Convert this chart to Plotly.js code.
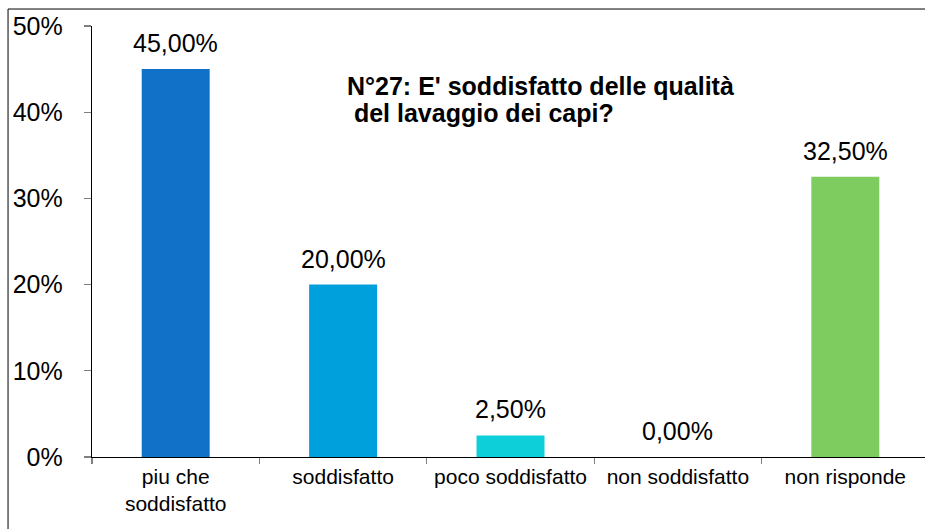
<!DOCTYPE html>
<html>
<head>
<meta charset="utf-8">
<script src="https://cdn.plot.ly/plotly-3.0.1.min.js"></script>
<style>
html,body{margin:0;padding:0;background:#fff;}
#chart{width:925px;height:529px;}
</style>
</head>
<body>
<div id="chart"></div>
<script>
const categories = ["piu che<br>soddisfatto", "soddisfatto", "poco soddisfatto", "non soddisfatto", "non risponde"];
const values = [0.45, 0.20, 0.025, 0.0, 0.325];
const valueLabels = ["45,00%", "20,00%", "2,50%", "0,00%", "32,50%"];
const barColors = ["#1170C8", "#00A0DC", "#0DCFD9", "#1170C8", "#7ECC5F"];
const yTickVals = [0, 0.1, 0.2, 0.3, 0.4, 0.5];
const yTickText = ["0%", "10%", "20%", "30%", "40%", "50%"];
const titleLines = ["N°27: E' soddisfatto delle qualità", "\u00A0del lavaggio dei capi?"];

const FONT = "Liberation Sans, Arial, sans-serif";

const trace = {
  type: "bar",
  x: categories,
  y: values,
  marker: { color: barColors, line: { width: 0 } },
  hoverinfo: "none"
};

const annotations = categories.map((c, i) => ({
  x: c, y: values[i], xref: "x", yref: "y",
  text: valueLabels[i], showarrow: false,
  xanchor: "center", yanchor: "bottom", yshift: 10,
  font: { family: FONT, size: 25, color: "#000" }
}));
const titleY = [0.860, 0.797];
titleLines.forEach((t, i) => annotations.push({
  x: 0.3035, y: titleY[i], xref: "paper", yref: "paper",
  text: t, showarrow: false, align: "left",
  xanchor: "left", yanchor: "middle",
  font: { family: FONT, size: 25, color: "#000", weight: "bold" }
}));

const layout = {
  width: 925, height: 529,
  margin: { l: 92, r: 0, t: 26, b: 72, pad: 0 },
  paper_bgcolor: "#fff", plot_bgcolor: "#fff",
  showlegend: false,
  bargap: 0.594,
  font: { family: FONT, color: "#000" },
  xaxis: {
    type: "category",
    range: [-0.5, 4.476],
    showline: true, linecolor: "#000", linewidth: 1.3,
    ticks: "outside", tickson: "boundaries", ticklen: 6, tickcolor: "#808080", tickwidth: 1.3,
    tickfont: { family: FONT, size: 21, color: "#000" },
    showgrid: false, zeroline: false, fixedrange: true
  },
  yaxis: {
    range: [0, 0.5],
    tickvals: yTickVals, ticktext: yTickText,
    showline: true, linecolor: "#000", linewidth: 1.3,
    ticks: "outside", ticklen: 7, tickcolor: "#808080", tickwidth: 1.3,
    ticklabelstandoff: 16,
    tickfont: { family: FONT, size: 25, color: "#000" },
    showgrid: false, zeroline: false, fixedrange: true
  },
  annotations: annotations,
  shapes: [
    { type: "line", xref: "paper", yref: "paper", x0: -0.1008, x1: -0.1008, y0: 1.0394, y1: -0.2, line: { color: "#000", width: 1 } },
    { type: "line", xref: "paper", yref: "paper", x0: -0.1008, x1: 1.05, y0: 1.0394, y1: 1.0394, line: { color: "#000", width: 1 } }
  ]
};

Plotly.newPlot("chart", [trace], layout, { displayModeBar: false, staticPlot: true });
</script>
</body>
</html>
